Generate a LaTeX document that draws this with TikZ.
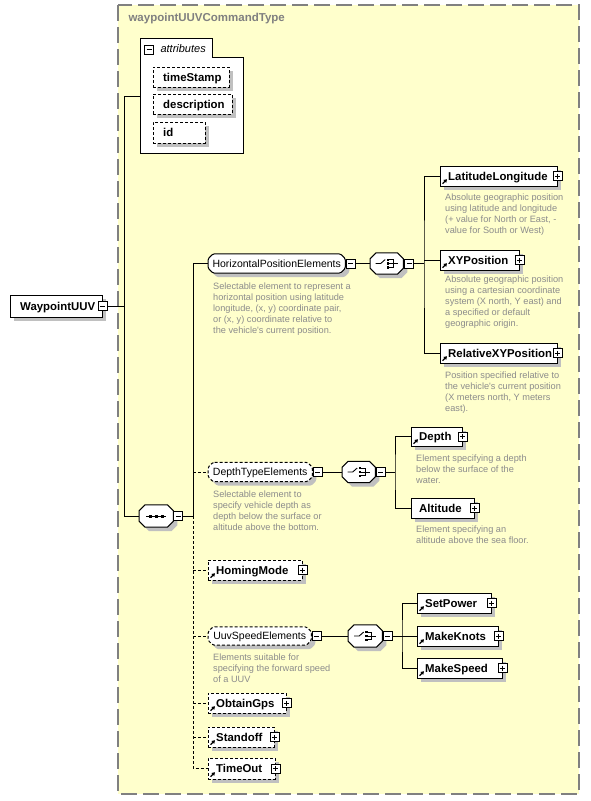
\documentclass[tikz,border=0pt]{standalone}
\usepackage{fontspec}
\setmainfont{Liberation Sans}
\usetikzlibrary{shadows,arrows.meta}
\pgfdeclarelayer{bg}
\pgfsetlayers{bg,main}
\definecolor{typebg}{HTML}{FFFFCC}
\definecolor{typeborder}{HTML}{808080}
\definecolor{descgray}{HTML}{8C8C8C}
\definecolor{shadowgray}{HTML}{C0C0C0}
\newcommand{\namefont}{\fontsize{11.4}{13}\selectfont\bfseries}
\newcommand{\grpfont}{\fontsize{10.5}{12}\selectfont}
\newcommand{\descfont}{\fontsize{9.2}{11}\selectfont}
\newcommand{\refarr}[1]{\draw[line width=1.2pt,-{Triangle[length=3.2pt,width=3.8pt]}] ([shift={(2.5pt,2.5pt)}]#1.south west) -- ++(4.5pt,4.5pt);}
\newcommand{\chshape}[4]{\begin{pgfonlayer}{bg}\path[draw,fill=white,line width=1pt,preaction={fill=shadowgray,transform canvas={xshift=4pt,yshift=-4pt}},#4]
  ([xshift=#2pt]#1.north west) -- ([xshift=-#2pt]#1.north east) -- ([yshift=-#3pt]#1.north east) -- ([yshift=#3pt]#1.south east) -- ([xshift=-#2pt]#1.south east) -- ([xshift=#2pt]#1.south west) -- ([yshift=#3pt]#1.south west) -- ([yshift=-#3pt]#1.north west) -- cycle;\end{pgfonlayer}}
\newcommand{\seqicon}[1]{\begin{scope}[shift={(#1.center)}]
  \draw[line width=0.9pt] (-10,0) -- (10,0);
  \fill (-7.5,-1.5) rectangle (-4.5,1.5);
  \fill (-1.5,-1.5) rectangle (1.5,1.5);
  \fill (4.5,-1.5) rectangle (7.5,1.5);
\end{scope}}
\newcommand{\choiceicon}[1]{\begin{scope}[shift={(#1.center)}]
  \draw[line width=0.9pt] (-11,0) -- (-6,0) -- (-1.5,-4);
  \fill (0,-5) rectangle (2.6,-2.6);
  \fill (0,-1.3) rectangle (2.6,1.3);
  \fill (0,2.6) rectangle (2.6,5);
  \draw[line width=0.9pt] (2.6,-3.8) -- (6.5,-3.8) -- (6.5,3.8) -- (2.6,3.8);
  \draw[line width=0.9pt] (2.6,0) -- (11,0);
\end{scope}}
\begin{document}
\begin{tikzpicture}[x=1pt,y=-1pt,line width=1pt,
  shad/.style={drop shadow={shadow xshift=4pt,shadow yshift=-4pt,fill=shadowgray,opacity=1}},
  ebox/.style 2 args={draw,fill=white,anchor=west,minimum height=20pt,text width=#1pt,text height=8.2pt,text depth=0pt,inner xsep=0pt,inner ysep=0pt,align=left,font=\namefont,execute at begin node={\hspace*{#2pt}}},
  opt/.style={dash pattern=on 3pt off 2pt},
  grp/.style={anchor=west,minimum width=#1pt,minimum height=19pt,text height=7.6pt,text depth=0pt,inner sep=0pt,font=\grpfont},
  comp/.style={anchor=west,minimum width=33pt,minimum height=21pt,inner sep=0pt},
  btn/.style={draw,solid,fill=white,line width=0.8pt,minimum size=9pt,inner sep=0pt},
  minusb/.style={btn,path picture={\draw[line width=0.8pt] ([xshift=2pt]path picture bounding box.west) -- ([xshift=-2pt]path picture bounding box.east);}},
  plusb/.style={btn,path picture={\draw[line width=0.8pt] ([xshift=2pt]path picture bounding box.west) -- ([xshift=-2pt]path picture bounding box.east);\draw[line width=0.8pt] ([yshift=-2pt]path picture bounding box.north) -- ([yshift=2pt]path picture bounding box.south);}},
  desc/.style={anchor=north west,align=left,inner sep=0pt,text=descgray,font=\descfont},
  conn/.style={line width=1pt},
  dconn/.style={line width=1pt,dash pattern=on 3pt off 2pt}]
\begin{pgfonlayer}{bg}
\fill[white] (0,0) rectangle (590,801);
\draw[typeborder,line width=1.5pt,dash pattern=on 16pt off 6pt,fill=typebg] (118,5) rectangle (579,794);
\end{pgfonlayer}
\useasboundingbox (0,0) rectangle (590,801);
\node[anchor=west,font=\fontsize{11.5}{13}\selectfont\bfseries,text=typeborder] (title) at (125,18.5) {waypointUUVCommandType};
% attributes
\draw[fill=white] (140,38) -- (212,38) -- (212,57) -- (243,57) -- (243,153) -- (140,153) -- cycle;
\node[minusb] (attb) at (149,49.5) {};
\node[anchor=west,font=\fontsize{11}{13}\selectfont\itshape] (attt) at (157,48.5) {attributes};
\coordinate (attl) at (140,96);
\node[ebox={76}{10},opt,shad] (ts) at (153,77) {timeStamp};
\node[ebox={79}{10},opt,shad] (ds) at (153,104) {description};
\node[ebox={52}{10},opt,shad,minimum height=21pt] (id) at (153,132.5) {id};
% root
\node[ebox={92}{10},shad,minimum height=22pt] (root) at (10,306) {WaypointUUV};
\node[minusb] (rootb) at (root.east) {};
\coordinate (rs) at (124,306);
% sequence
\node[comp,minimum width=34pt,minimum height=22pt] (seq) at (139,516) {};
\chshape{seq}{6}{6}{}
\seqicon{seq}
\node[minusb,anchor=west] (seqb) at (seq.east) {};
\coordinate (sp0) at (193,516);
% horizontal position
\node[grp=137] (hpe) at (208,263.5) {HorizontalPositionElements};
\chshape{hpe}{5}{5}{rounded corners=1.5pt}
\node[minusb,anchor=west] (hpeb) at ([xshift=0.5pt]hpe.east) {};
\node[desc] (hped) at (213,283) {Selectable element to represent a\\horizontal position using latitude\\longitude, (x, y) coordinate pair,\\or (x, y) coordinate relative to\\the vehicle\textquotesingle s current position.};
\node[comp] (ch1) at (370,263.5) {};
\chshape{ch1}{6}{6}{}
\choiceicon{ch1}
\node[minusb,anchor=west] (ch1b) at ([xshift=1pt]ch1.east) {};
\coordinate (c1) at (424,263.5);
\node[ebox={117}{8},shad] (ll) at (440,176) {LatitudeLongitude};
\node[plusb] (llb) at (ll.east) {};
\refarr{ll}
\node[desc] (lld) at (445,194) {Absolute geographic position\\using latitude and longitude\\(+ value for North or East, -\\value for South or West)};
\node[ebox={79}{8},shad] (xy) at (440,260) {XYPosition};
\node[plusb] (xyb) at (xy.east) {};
\refarr{xy}
\node[desc] (xyd) at (445,276) {Absolute geographic position\\using a cartesian coordinate\\system (X north, Y east) and\\a specified or default\\geographic origin.};
\node[ebox={117}{8},shad] (rxy) at (440,353) {RelativeXYPosition};
\node[plusb] (rxyb) at (rxy.east) {};
\refarr{rxy}
\node[desc] (rxyd) at (445,372) {Position specified relative to\\the vehicle\textquotesingle s current position\\(X meters north, Y meters\\east).};
% depth type
\node[grp=104] (dte) at (208,472) {DepthTypeElements};
\chshape{dte}{5}{5}{rounded corners=1.5pt,opt}
\node[minusb,anchor=west] (dteb) at ([xshift=0.5pt]dte.east) {};
\node[desc] (dted) at (213,491) {Selectable element to\\specify vehicle depth as\\depth below the surface or\\altitude above the bottom.};
\node[comp] (ch2) at (342,472) {};
\chshape{ch2}{6}{6}{}
\choiceicon{ch2}
\node[minusb,anchor=west] (ch2b) at ([xshift=0.5pt]ch2.east) {};
\coordinate (c2) at (395,472);
\node[ebox={51}{8},shad,minimum height=19pt] (depth) at (411,436.5) {Depth};
\node[plusb] (depthb) at (depth.east) {};
\refarr{depth}
\node[desc] (depthd) at (416,455) {Element specifying a depth\\below the surface of the\\water.};
\node[ebox={63}{8},shad] (alt) at (411,508) {Altitude};
\node[plusb] (altb) at (alt.east) {};
\node[desc] (altd) at (416,526) {Element specifying an\\altitude above the sea floor.};
% homing
\node[ebox={94}{8},opt,shad] (hm) at (208,570) {HomingMode};
\node[plusb] (hmb) at (hm.east) {};
\refarr{hm}
% uuv speed
\node[grp=103,minimum height=18pt] (uuv) at (208,636) {UuvSpeedElements};
\chshape{uuv}{5}{5}{rounded corners=1.5pt,opt}
\node[minusb,anchor=west] (uuvb) at ([xshift=0.5pt]uuv.east) {};
\node[desc] (uuvd) at (213,654) {Elements suitable for\\specifying the forward speed\\of a UUV};
\node[comp,minimum width=34pt,minimum height=22pt] (ch3) at (348,636) {};
\chshape{ch3}{6}{6}{}
\choiceicon{ch3}
\node[minusb,anchor=west] (ch3b) at ([xshift=0.5pt]ch3.east) {};
\coordinate (c3) at (402,636);
\node[ebox={74}{8},shad] (setp) at (417,603) {SetPower};
\node[plusb] (setpb) at (setp.east) {};
\refarr{setp}
\node[ebox={81}{8},shad] (mk) at (417,636) {MakeKnots};
\node[plusb] (mkb) at (mk.east) {};
\refarr{mk}
\node[ebox={85}{8},shad] (ms) at (417,668) {MakeSpeed};
\node[plusb] (msb) at (ms.east) {};
\refarr{ms}
% others
\node[ebox={78}{8},opt,shad] (og) at (208,703) {ObtainGps};
\node[plusb] (ogb) at (og.east) {};
\refarr{og}
\node[ebox={66}{8},opt,shad] (so) at (208,737) {Standoff};
\node[plusb] (sob) at (so.east) {};
\refarr{so}
\node[ebox={67}{8},opt,shad,minimum height=21pt] (to) at (208,768.5) {TimeOut};
\node[plusb] (tob) at (to.east) {};
\refarr{to}
% connectors
\draw[conn] (rootb.east) -- (rs);
\draw[conn] (attl) -- (attl -| rs) |- (seq.west);
\draw[conn] (seqb.east) -- (sp0);
\draw[conn] (sp0) |- (hpe.west);
\draw[dconn] (sp0) |- (to.west);
\draw[dconn] (sp0 |- dte.west) -- (dte.west);
\draw[dconn] (sp0 |- hm.west) -- (hm.west);
\draw[dconn] (sp0 |- uuv.west) -- (uuv.west);
\draw[dconn] (sp0 |- og.west) -- (og.west);
\draw[dconn] (sp0 |- so.west) -- (so.west);
\draw[conn] (hpeb.east) -- (ch1.west);
\draw[conn] (ch1b.east) -- (c1);
\draw[conn] (ll.west) -| (c1) |- (rxy.west);
\draw[conn] (c1 |- xy.west) -- (xy.west);
\draw[conn] (dteb.east) -- (ch2.west);
\draw[conn] (ch2b.east) -- (c2);
\draw[conn] (depth.west) -| (c2) |- (alt.west);
\draw[conn] (uuvb.east) -- (ch3.west);
\draw[conn] (ch3b.east) -- (c3);
\draw[conn] (setp.west) -| (c3) |- (ms.west);
\draw[conn] (c3 |- mk.west) -- (mk.west);
\end{tikzpicture}
\end{document}
